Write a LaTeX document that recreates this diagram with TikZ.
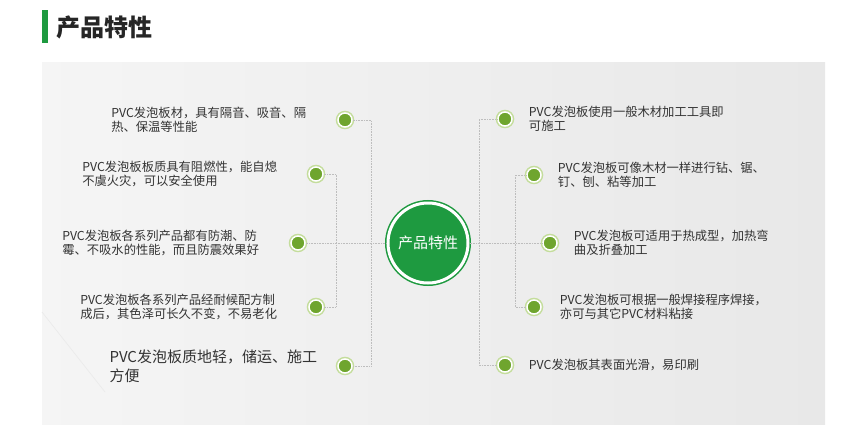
\documentclass[tikz,border=0pt]{standalone}
\usepackage{fontspec}
\setmainfont{Noto Sans CJK SC}
\usetikzlibrary{positioning}
\definecolor{hubgreen}{HTML}{1E9A40}
\definecolor{dotgreen}{HTML}{6FA52E}
\definecolor{ringgreen}{HTML}{C4DD9C}
\definecolor{linkgray}{HTML}{BDBDBD}
\definecolor{txtgray}{HTML}{333333}
\tikzset{
  gdot/.style={circle,fill=dotgreen,draw=white,line width=1.5pt,minimum size=14pt,inner sep=0pt,
    preaction={draw=ringgreen,line width=4.5pt}},
  hub/.style={circle,fill=hubgreen,draw=white,line width=3pt,minimum size=80pt,inner sep=0pt,
    preaction={draw=hubgreen,line width=6pt},text=white,font=\fontsize{15}{18}\selectfont},
  item/.style={text=txtgray,align=left,inner sep=0pt,font=\fontsize{12.3}{14.5}\selectfont},
  link/.style={draw=linkgray,densely dotted,line width=0.6pt}
}
\begin{document}
\begin{tikzpicture}[x=1pt,y=-1pt,node distance=31pt]
\useasboundingbox (0,0) rectangle (841,439);
\fill[white] (0,0) rectangle (841,439);
\fill[hubgreen] (42,10) rectangle (48,43);
\node[anchor=west,inner sep=0pt,text=black!85,font=\fontsize{24}{28}\selectfont\bfseries] (title) at (56,27) {产品特性};
\shade[left color=black!4,right color=black!9] (42,62) rectangle (825,424);
\draw[black!8,line width=0.7pt] (42,312) -- (105,392);

\node[hub] (hub) at (428,243) {产品特性};

\node[gdot] (l1) at (345,120) {};
\node[gdot] (l2) at (316,174) {};
\node[gdot] (l3) at (298,243) {};
\node[gdot] (l4) at (316,307) {};
\node[gdot] (l5) at (345,366) {};
\node[gdot] (r1) at (505,119) {};
\node[gdot] (r2) at (534,175) {};
\node[gdot] (r3) at (550,243) {};
\node[gdot] (r4) at (534,307) {};
\node[gdot] (r5) at (505,365) {};

\node[item,left=of l1] (t1) {PVC发泡板材，具有隔音、吸音、隔\\热、保温等性能};
\node[item,left=of l2] (t2) {PVC发泡板板质具有阻燃性，能自熄\\不虞火灾，可以安全使用};
\node[item,left=of l3] (t3) {PVC发泡板各系列产品都有防潮、防\\霉、不吸水的性能，而且防震效果好};
\node[item,left=of l4] (t4) {PVC发泡板各系列产品经耐候配方制\\成后，其色泽可长久不变，不易老化};
\node[item,left=20pt of l5,font=\fontsize{15}{19}\selectfont] (t5) {PVC发泡板质地轻，储运、施工\\方便};
\node[item,right=16pt of r1] (s1) {PVC发泡板使用一般木材加工工具即\\可施工};
\node[item,right=16pt of r2] (s2) {PVC发泡板可像木材一样进行钻、锯、\\钉、刨、粘等加工};
\node[item,right=16pt of r3] (s3) {PVC发泡板可适用于热成型，加热弯\\曲及折叠加工};
\node[item,right=18pt of r4] (s4) {PVC发泡板可根据一般焊接程序焊接，\\亦可与其它PVC材料粘接};
\node[item,right=16pt of r5] (s5) {PVC发泡板其表面光滑，易印刷};

\coordinate (lbus) at (371,0);
\coordinate (lbus2) at (336,0);
\coordinate (rbus) at (479,0);
\coordinate (rbus2) at (515,0);
\draw[link] (l1) -- (l1 -| lbus) -- (l5 -| lbus) -- (l5);
\draw[link] (l2) -- (l2 -| lbus2) -- (l4 -| lbus2) -- (l4);
\draw[link] (r1) -- (r1 -| rbus) -- (r5 -| rbus) -- (r5);
\draw[link] (r2) -- (r2 -| rbus2) -- (r4 -| rbus2) -- (r4);
\draw[link] (l3) -- (hub);
\draw[link] (hub) -- (r3);
\end{tikzpicture}
\end{document}
